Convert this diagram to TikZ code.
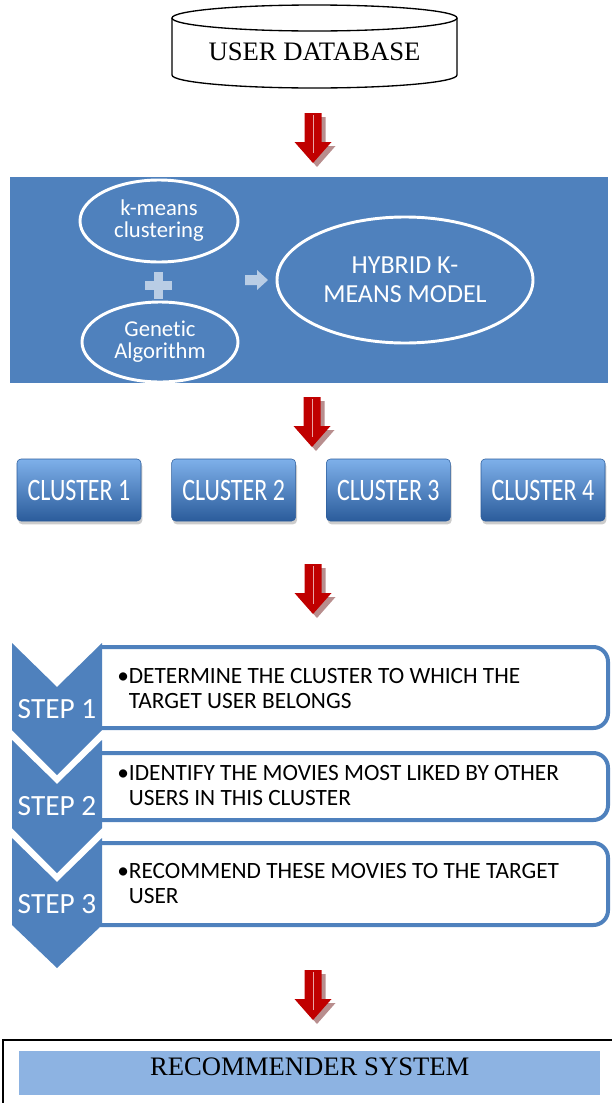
\documentclass[tikz,border=0pt]{standalone}
\usepackage{fontspec}
\setmainfont{Liberation Serif}
\newfontfamily\calibri[Ligatures=NoCommon]{Carlito}
\usetikzlibrary{shapes.geometric,shadows,positioning}

\definecolor{panelblue}{HTML}{4F81BD}
\definecolor{paleblue}{HTML}{B9CDE5}
\definecolor{recblue}{HTML}{8DB3E2}
\definecolor{arrowred}{HTML}{C00000}
\definecolor{arrowshade}{HTML}{B88E8E}
\definecolor{clustertop}{HTML}{7EB0EA}
\definecolor{clustermid}{HTML}{4C82C8}
\definecolor{clusterbot}{HTML}{2B5C9B}

% tall labels for the clusters
\newcommand{\tall}[1]{\scalebox{1}[1.3]{#1}}

% red block arrow with its shadow, drawn from the top of the shaft
\tikzset{
  pics/downarrow/.style={code={
    \fill[arrowshade] (-4.5,4) -- (12.5,4) -- (12.5,33) -- (22.5,33) -- (4,54) -- (-14.5,33) -- (-4.5,33) -- cycle;
    \fill[arrowred] (-8.5,0) -- (8.5,0) -- (8.5,29) -- (18.5,29) -- (0,50) -- (-18.5,29) -- (-8.5,29) -- cycle;
    \draw[white!65!arrowred, line width=0.6pt] (0,2) -- (0,40);
  }}
}

\begin{document}
\begin{tikzpicture}[x=0.75pt, y=-0.75pt, node distance=116pt,
    oval/.style = {draw=white, line width=2.2pt, ellipse, text=white, align=center, inner sep=0pt},
    cluster/.style = {rounded corners=3pt, draw=clusterbot, top color=clustertop, middle color=clustermid, bottom color=clusterbot,
        text=white, font=\calibri\fontsize{18}{20}\selectfont, minimum width=93pt, minimum height=46.5pt,
        drop shadow={opacity=0.4, shadow xshift=1pt, shadow yshift=-2.5pt}},
    stepbox/.style = {draw=panelblue, line width=3pt, fill=white, rounded corners=11pt},
    chevron/.style = {fill=panelblue},
    steptext/.style = {anchor=base west, align=left, inner sep=0pt, font=\calibri\fontsize{17.5}{18.75}\selectfont},
    stepnum/.style = {text=white, inner sep=0pt, anchor=base, font=\calibri\fontsize{22}{22}\selectfont}]

    \useasboundingbox (0,0) rectangle (611,1103);

    % database
    \draw[line width=1pt] (314.5,18) ellipse [x radius=142.5, y radius=13];
    \draw[line width=1pt] (172,18) -- (172,75) arc[start angle=180, end angle=0, x radius=142.5, y radius=13] -- (457,18);
    \node[anchor=base, inner sep=0pt, font=\fontsize{20}{22}\selectfont] (db) at (314.5,60) {USER DATABASE};

    \pic at (313,113) {downarrow};

    % hybrid model panel
    \node[fill=panelblue, minimum width=448.5pt, minimum height=154.5pt, inner sep=0pt] (panel) at (309,280) {};
    \node[oval, minimum width=118.5pt, minimum height=61.5pt, font=\calibri\fontsize{17}{16.5}\selectfont] (kmeans) at (159,221) {k-means\\clustering};
    \node[oval, minimum width=117pt, minimum height=60pt, font=\calibri\fontsize{17}{16.5}\selectfont] (genetic) at (160,342) {Genetic\\Algorithm};
    \node[oval, minimum width=192pt, minimum height=94.5pt, font=\calibri\fontsize{19.5}{21.75}\selectfont] (hybrid) at (405,280) {HYBRID K-\\MEANS MODEL};
    \fill[paleblue] (145,280.5) rectangle (172,289.5);
    \fill[paleblue] (154,271.5) rectangle (163,298.5);
    \fill[paleblue] (245,275) -- (257,275) -- (257,270) -- (268,280) -- (257,290) -- (257,285) -- (245,285) -- cycle;

    \pic at (312,397) {downarrow};

    % clusters
    \node[cluster] (c1) at (79,490) {\tall{CLUSTER 1}};
    \node[cluster, right of=c1] (c2) {\tall{CLUSTER 2}};
    \node[cluster, right of=c2] (c3) {\tall{CLUSTER 3}};
    \node[cluster, right of=c3] (c4) {\tall{CLUSTER 4}};

    \pic at (313,564) {downarrow};

    % steps
    \filldraw[stepbox] (100,647) -- (608,647) -- (608,728) -- (100,728);
    \filldraw[stepbox] (100,753) -- (608,753) -- (608,820) -- (100,820);
    \filldraw[stepbox] (100,843) -- (608,843) -- (608,925) -- (100,925);
    \fill[chevron] (12,643) -- (57,687) -- (102,643) -- (102,730) -- (57,775) -- (12,730) -- cycle;
    \fill[chevron] (12,740) -- (57,784) -- (102,740) -- (102,828) -- (57,873) -- (12,828) -- cycle;
    \fill[chevron] (12,838) -- (57,882) -- (102,838) -- (102,925) -- (57,968) -- (12,925) -- cycle;
    \node[stepnum] (n1) at (57,718) {STEP 1};
    \node[stepnum] (n2) at (57,815) {STEP 2};
    \node[stepnum] (n3) at (57,913) {STEP 3};
    \node[steptext] (t1) at (117,708) {\textbullet DETERMINE THE CLUSTER TO WHICH THE\\\phantom{\textbullet}TARGET USER BELONGS};
    \node[steptext] (t2) at (117,805) {\textbullet IDENTIFY THE MOVIES MOST LIKED BY OTHER\\\phantom{\textbullet}USERS IN THIS CLUSTER};
    \node[steptext] (t3) at (117,903) {\textbullet RECOMMEND THESE MOVIES TO THE TARGET\\\phantom{\textbullet}USER};

    \pic at (313,970) {downarrow};

    % recommender
    \draw[line width=1.5pt] (3,1040) rectangle (620,1115);
    \node[fill=recblue, minimum width=435.5pt, minimum height=33pt, inner sep=0pt] (rec) at (309.75,1073) {};
    \node[anchor=base, inner sep=0pt, font=\fontsize{20}{22}\selectfont] (rectext) at (309.75,1075) {RECOMMENDER SYSTEM};
\end{tikzpicture}
\end{document}
